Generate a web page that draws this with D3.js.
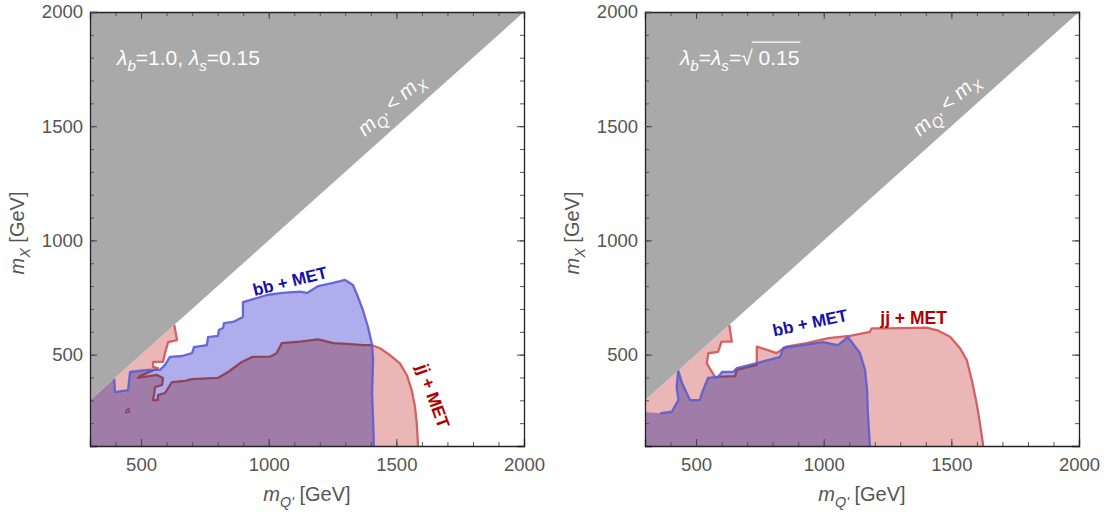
<!DOCTYPE html>
<html>
<head>
<meta charset="utf-8">
<script src="https://cdn.jsdelivr.net/npm/d3@7"></script>
<style>
  body { margin: 0; background: #fff; }
  svg { font-family: "Liberation Sans", Arial, sans-serif; }
</style>
</head>
<body>
<svg width="1110" height="512"></svg>
<script>
// tick values (GeV)
let xMajor = [500, 1000, 1500, 2000],
    yMajor = [500, 1000, 1500, 2000],
    xMinor = d3.range(300, 2001, 100),
    yMinor = d3.range(100, 2001, 100);

// excluded region m_Q' < m_X
let excluded = [[300, 300], [2000, 2000], [300, 2000]];

// left panel, lambda_b = 1.0, lambda_s = 0.15
let bbLeft = [[300,100],[300,300],[395,395],[398,336],[449,345],[457,424],[527,433],[574,433],
  [594,455],[613,490],[660,494],[700,507],[707,533],[758,542],[762,577],[801,582],[805,608],
  [821,617],[825,638],[860,643],[899,665],[899,730],[993,761],[1052,770],[1123,776],[1150,770],
  [1193,800],[1252,814],[1299,827],[1330,805],[1350,752],[1369,695],[1389,621],[1405,542],
  [1409,477],[1405,332],[1409,214],[1412,100]];
let jjLeft = [[300,100],[300,300],[630,630],[641,564],[606,555],[594,507],[586,468],[547,468],
  [547,446],[566,441],[496,406],[488,398],[562,411],[586,398],[582,367],[555,358],[547,301],
  [566,301],[566,323],[594,332],[621,380],[672,385],[700,393],[801,398],[841,424],[895,468],
  [935,490],[1005,491],[1031,506],[1051,550],[1123,557],[1194,567],[1253,550],[1306,547],
  [1371,542],[1403,542],[1436,528],[1475,498],[1514,462],[1541,411],[1560,345],[1573,272],
  [1580,199],[1585,100]];
let jjLeftSpot = [[441,246],[455,249],[453,262],[443,259]];

// right panel, lambda_b = lambda_s = sqrt(0.15)
let bbRight = [[300,100],[300,249],[359,243],[405,250],[431,301],[424,357],[430,430],[445,376],
  [476,301],[515,301],[523,332],[547,398],[586,402],[602,424],[645,424],[660,441],[739,463],
  [829,490],[841,529],[919,542],[997,555],[1056,542],[1095,577],[1142,507],[1162,433],
  [1170,345],[1173,244],[1181,100]];
let jjRight = [[300,100],[300,300],[630,630],[640,557],[600,557],[586,512],[548,506],[542,462],
  [574,403],[653,406],[659,433],[738,455],[738,535],[816,507],[853,535],[933,550],[1018,572],
  [1103,582],[1181,600],[1188,615],[1247,615],[1403,618],[1449,605],[1495,578],[1534,528],
  [1560,477],[1580,389],[1599,287],[1612,199],[1625,100]];

let svg = d3.select("svg"),
    size = 434,
    marginTop = 12;

let x = d3.scaleLinear().domain([300, 2000]).range([0, size]);
let y = d3.scaleLinear().domain([100, 2000]).range([size, 0]);

let line = d3.line().x(d => x(d[0])).y(d => y(d[1]));
let closed = d => line(d) + "Z";

let blueFill = "rgb(174,174,236)", blueLine = "rgb(92,92,212)",
    redFill = "rgb(234,182,182)", redLine = "rgb(212,98,98)";

// writes text with italic / subscript pieces
function rich(t, parts, fs) {
  let shift = 0;
  parts.forEach(p => {
    let s = p.sub ? fs * 0.3 : 0;
    t.append("tspan")
      .text(p.t)
      .attr("font-style", p.it ? "italic" : null)
      .attr("font-size", p.sub ? fs * 0.72 : fs)
      .attr("dy", s - shift);
    shift = s;
  });
}

let panels = [
  { left: 90, bb: bbLeft, jj: jjLeft, spots: [jjLeftSpot],
    bbAt: [1083, 822], bbRot: -14, jjAt: [1644, 319], jjRot: 70, lam: "left" },
  { left: 645, bb: bbRight, jj: jjRight, spots: [],
    bbAt: [946, 640], bbRot: -12, jjAt: [1352, 662], jjRot: 0, lam: "right" }
];

panels.forEach(p => {
  let g = svg.append("g").attr("transform", `translate(${p.left},${marginTop})`);
  let clipId = "clip-" + p.lam;
  g.append("defs").append("clipPath").attr("id", clipId)
    .append("rect").attr("width", size).attr("height", size);

  let area = g.append("g").attr("clip-path", `url(#${clipId})`).style("isolation", "isolate");

  // jj region first, then bb laid over it
  area.append("path").datum(p.jj).attr("d", closed)
    .attr("fill", redFill).attr("stroke", "none");
  p.spots.forEach(s => area.append("path").datum(s).attr("d", closed)
    .attr("fill", redFill).attr("stroke", redLine).attr("stroke-width", 1.5));
  area.append("path").datum(p.jj.slice(2)).attr("d", line)
    .attr("fill", "none").attr("stroke", redLine).attr("stroke-width", 2.3)
    .attr("stroke-linejoin", "round");
  area.append("path").datum(p.bb).attr("d", closed)
    .attr("fill", blueFill).attr("stroke", "none").style("mix-blend-mode", "multiply");
  area.append("path").datum(p.bb.slice(2)).attr("d", line)
    .attr("fill", "none").attr("stroke", blueLine).attr("stroke-width", 2.3)
    .attr("stroke-opacity", 0.9).attr("stroke-linejoin", "round");

  area.append("path").datum(excluded).attr("d", closed)
    .attr("fill", "#a9a9a9");

  // frame and ticks
  let axes = [
    { ax: d3.axisBottom, tr: `translate(0,${size})`, sc: x, lab: true, maj: xMajor, min: xMinor },
    { ax: d3.axisTop, tr: "translate(0,0)", sc: x, lab: false, maj: xMajor, min: xMinor },
    { ax: d3.axisLeft, tr: "translate(0,0)", sc: y, lab: true, maj: yMajor, min: yMinor },
    { ax: d3.axisRight, tr: `translate(${size},0)`, sc: y, lab: false, maj: yMajor, min: yMinor }
  ];
  axes.forEach(a => {
    let minorG = g.append("g").attr("transform", a.tr)
      .call(a.ax(a.sc).tickValues(a.min).tickSize(-4).tickFormat(""));
    minorG.select(".domain").remove();
    minorG.selectAll("line").attr("stroke", "#555");
    let majorG = g.append("g").attr("transform", a.tr)
      .call(a.ax(a.sc).tickValues(a.maj).tickSize(-7)
        .tickPadding(a.ax === d3.axisBottom ? 12 : 7)
        .tickFormat(a.lab ? d3.format("d") : ""));
    majorG.select(".domain").attr("stroke", "#222").attr("stroke-width", 1.3);
    majorG.selectAll("line").attr("stroke", "#444");
    majorG.selectAll("text").attr("font-size", 18.5).attr("fill", "#555")
      .attr("font-family", "Liberation Sans, Arial, sans-serif");
  });

  // axis titles
  let xt = g.append("text").attr("x", size / 2).attr("y", 489)
    .attr("text-anchor", "middle").attr("fill", "#555");
  rich(xt, [{ t: "m", it: true }, { t: "Q'", it: true, sub: true }, { t: " [GeV]" }], 20);

  let yt = g.append("text")
    .attr("transform", `translate(${-66},${size / 2 + 4}) rotate(-90)`)
    .attr("text-anchor", "middle").attr("fill", "#555");
  rich(yt, [{ t: "m", it: true }, { t: "X", it: true, sub: true }, { t: " [GeV]" }], 20);

  // region labels
  g.append("text").text("bb + MET")
    .attr("transform", `translate(${x(p.bbAt[0])},${y(p.bbAt[1])}) rotate(${p.bbRot})`)
    .attr("text-anchor", "middle").attr("dy", "0.35em")
    .attr("font-size", 17).attr("font-weight", "bold").attr("fill", "#1212aa");
  g.append("text").text("jj + MET")
    .attr("transform", `translate(${x(p.jjAt[0])},${y(p.jjAt[1])}) rotate(${p.jjRot})`)
    .attr("text-anchor", "middle").attr("dy", "0.35em")
    .attr("font-size", 17.5).attr("font-weight", "bold").attr("fill", "#b00000");

  let ang = -Math.atan((y(100) - y(2000)) / 1900 / ((x(2000) - x(300)) / 1700)) * 180 / Math.PI;
  let dt = g.append("text")
    .attr("transform", `translate(${x(1530)},${y(1530)}) rotate(${ang})`)
    .attr("text-anchor", "middle").attr("y", -13).attr("fill", "#fff");
  rich(dt, [{ t: "m", it: true }, { t: "Q'", it: true, sub: true }, { t: " < " },
            { t: "m", it: true }, { t: "X", it: true, sub: true }], 20.5);

  // coupling annotation
  let lt = g.append("text").attr("x", x(406)).attr("y", y(1770)).attr("fill", "#fff");
  if (p.lam === "left") {
    rich(lt, [{ t: "λ", it: true }, { t: "b", it: true, sub: true }, { t: "=1.0, " },
              { t: "λ", it: true }, { t: "s", it: true, sub: true }, { t: "=0.15" }], 21);
  } else {
    lt.attr("x", x(437));
    rich(lt, [{ t: "λ", it: true }, { t: "b", it: true, sub: true }, { t: "=" },
              { t: "λ", it: true }, { t: "s", it: true, sub: true }, { t: "=√" }, { t: " 0.15" }], 21);
    let last = lt.selectAll("tspan").nodes().pop();
    let x0 = last.getStartPositionOfChar(0).x, w = last.getComputedTextLength();
    g.append("line").attr("x1", x0 - 1).attr("x2", x0 + w + 1)
      .attr("y1", y(1770) - 22.5).attr("y2", y(1770) - 22.5)
      .attr("stroke", "#fff").attr("stroke-width", 1.3);
  }
});
</script>
</body>
</html>
